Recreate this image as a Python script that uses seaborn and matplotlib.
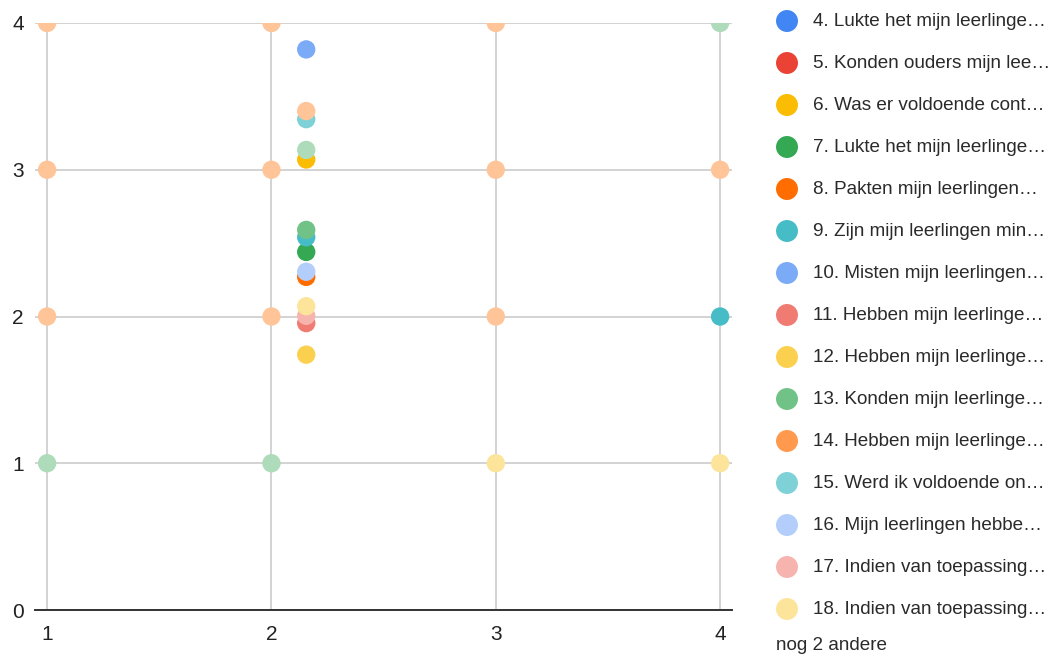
import matplotlib
matplotlib.use("Agg")
import matplotlib.pyplot as plt
import seaborn as sns
import pandas as pd

# Question series and their colours
series = ["4", "5", "6", "7", "8", "9", "10", "11", "12", "13", "14",
          "15", "16", "17", "18", "19", "20"]
colors = ["#4285f4", "#ea4335", "#fbbc04", "#34a853", "#ff6d01", "#46bdc6",
          "#7baaf7", "#f07b72", "#fcd04f", "#71c287", "#ff994d", "#7ed1d7",
          "#b3cefb", "#f7b4ae", "#fde49b", "#aedcba", "#ffc599"]

legend_labels = [
    "4. Lukte het mijn leerlinge\u2026",
    "5. Konden ouders mijn lee\u2026",
    "6. Was er voldoende cont\u2026",
    "7. Lukte het mijn leerlinge\u2026",
    "8. Pakten mijn leerlingen\u2026",
    "9. Zijn mijn leerlingen min\u2026",
    "10. Misten mijn leerlingen\u2026",
    "11. Hebben mijn leerlinge\u2026",
    "12. Hebben mijn leerlinge\u2026",
    "13. Konden mijn leerlinge\u2026",
    "14. Hebben mijn leerlinge\u2026",
    "15. Werd ik voldoende on\u2026",
    "16. Mijn leerlingen hebbe\u2026",
    "17. Indien van toepassing\u2026",
    "18. Indien van toepassing\u2026",
]
more_label = "nog 2 andere"

# Points per series: (x, y)
pts_6 = [(2.155, 3.07)]
pts_7 = [(2.155, 2.44)]
pts_8 = [(2.155, 2.27)]
pts_9 = [(2.155, 2.54), (4, 2)]
pts_10 = [(2.155, 3.82)]
pts_11 = [(2.155, 1.955)]
pts_12 = [(2.155, 1.74)]
pts_13 = [(2.155, 2.59)]
pts_15 = [(2.155, 3.345)]
pts_16 = [(2.155, 2.305)]
pts_17 = [(2.155, 2.005)]
pts_18 = [(2.155, 2.07), (3, 1), (4, 1)]
pts_19 = [(2.155, 3.135), (4, 4), (1, 1), (2, 1)]
pts_20 = [(2.155, 3.40), (1, 4), (2, 4), (3, 4), (1, 3), (2, 3), (3, 3),
          (4, 3), (1, 2), (2, 2), (3, 2)]

point_sets = {"6": pts_6, "7": pts_7, "8": pts_8, "9": pts_9, "10": pts_10,
              "11": pts_11, "12": pts_12, "13": pts_13, "15": pts_15,
              "16": pts_16, "17": pts_17, "18": pts_18, "19": pts_19,
              "20": pts_20}

x_ticks = [1, 2, 3, 4]
y_ticks = [0, 1, 2, 3, 4]

rows = []
for s in series:
    for x, y in point_sets.get(s, []):
        rows.append({"reeks": s, "x": x, "y": y})
df = pd.DataFrame(rows)

sns.set_style("white")
plt.rcParams["font.family"] = ["Liberation Sans", "DejaVu Sans"]

W, H = 1053, 657
fig = plt.figure(figsize=(W / 100, H / 100), dpi=100)
ax = fig.add_axes([35 / W, 1 - 610 / H, (732 - 35) / W, (610 - 23) / H])

palette = dict(zip(series, colors))
sns.scatterplot(data=df, x="x", y="y", hue="reeks", hue_order=series,
                palette=palette, s=175, linewidth=0, alpha=1,
                legend=False, ax=ax, zorder=3)

ax.set_xlim(0.946, 4.053)
ax.set_ylim(0, 4)
ax.set_xticks(x_ticks)
ax.set_yticks(y_ticks)
ax.set_xlabel("")
ax.set_ylabel("")
ax.grid(True, color="#cccccc", linewidth=1.2, zorder=0)
ax.set_axisbelow(True)
for side in ["top", "right", "left"]:
    ax.spines[side].set_visible(False)
ax.spines["bottom"].set_color("#333333")
ax.spines["bottom"].set_linewidth(1.4)
ax.spines["bottom"].set_zorder(2)
ax.tick_params(axis="both", length=0, labelsize=15, colors="#222222")
ax.tick_params(axis="x", pad=11)
ax.tick_params(axis="y", pad=8)

# Legend drawn on an overlay in pixel units
lax = fig.add_axes([0, 0, 1, 1], facecolor="none")
lax.set_xlim(0, W)
lax.set_ylim(H, 0)
lax.axis("off")
row_y = [21 + 42 * i for i in range(len(legend_labels))]
lax.scatter([787] * len(legend_labels), row_y, s=250,
            c=colors[:len(legend_labels)], linewidths=0)
for yy, lab in zip(row_y, legend_labels):
    lax.text(813, yy, lab, fontsize=13.6, color="#2a2a2a",
             va="center", ha="left")
lax.text(776, 646, more_label, fontsize=13.6, color="#2a2a2a",
         va="center", ha="left")

fig.savefig("out.png", dpi=100)
